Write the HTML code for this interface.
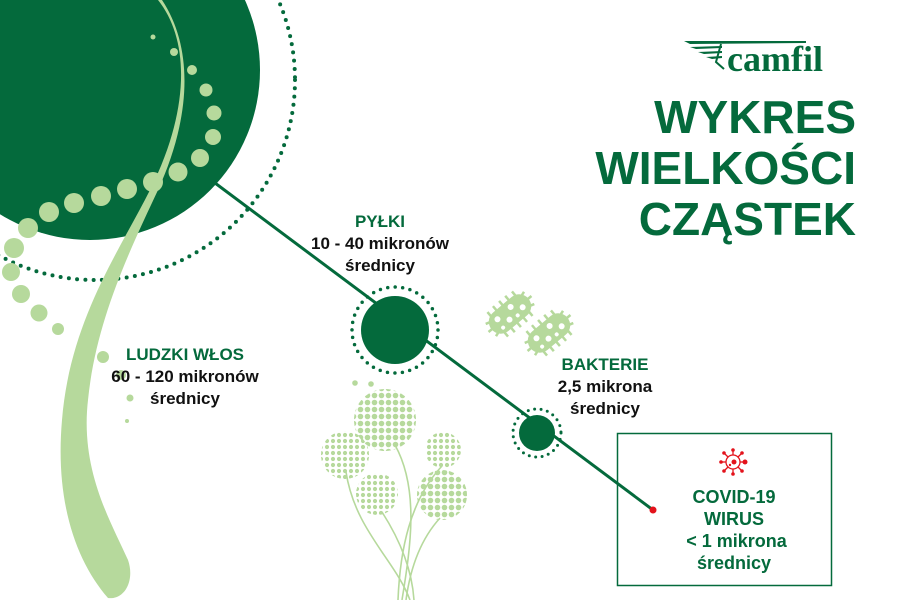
<!DOCTYPE html>
<html><head><meta charset="utf-8"><style>
body{margin:0;width:900px;height:600px;overflow:hidden;background:#fff;font-family:"Liberation Sans",sans-serif}
svg{position:absolute;left:0;top:0}
.t{position:absolute;text-align:center;font-weight:bold;font-size:17px;line-height:22px;color:#111}
.g{color:#046a3c}
.title{position:absolute;right:44px;top:92px;text-align:right;font-weight:bold;font-size:46px;line-height:51px;color:#046a3c}
</style></head><body>
<svg width="900" height="600" viewBox="0 0 900 600">
<defs>
<pattern id="dp" width="7" height="7" patternUnits="userSpaceOnUse"><circle cx="3.5" cy="3.5" r="2.8" fill="#b6d99c"/></pattern>
<pattern id="dp2" width="6" height="6" patternUnits="userSpaceOnUse"><circle cx="3" cy="3" r="2.1" fill="#b6d99c"/></pattern>
<g id="bac">
<g stroke="#b6d99c" stroke-width="2.5">
<line x1="-16" y1="-16" x2="-16" y2="16"/><line x1="-8" y1="-17" x2="-8" y2="17"/><line x1="0" y1="-17" x2="0" y2="17"/><line x1="8" y1="-17" x2="8" y2="17"/><line x1="16" y1="-16" x2="16" y2="16"/><line x1="-28" y1="0" x2="28" y2="0"/><line x1="-25" y1="-8" x2="25" y2="8"/><line x1="-25" y1="8" x2="25" y2="-8"/>
</g>
<rect x="-24" y="-12" width="48" height="24" rx="12" fill="#b6d99c"/>
<g fill="#fff"><circle cx="-13" cy="-4" r="3"/><circle cx="-4" cy="4" r="3"/><circle cx="5" cy="-5" r="3"/><circle cx="14" cy="3" r="3"/><circle cx="-14" cy="6" r="2"/><circle cx="5" cy="6" r="2"/></g>
</g>
</defs>
<circle cx="90" cy="70" r="170" fill="#046a3c"/>
<circle cx="95" cy="80" r="200" fill="none" stroke="#046a3c" stroke-width="4" stroke-linecap="round" stroke-dasharray="0 8.3"/>
<!-- hair -->
<path d="M158 0 C190 40 190 110 150 190 C120 250 70 320 62 420 C55 500 75 560 108 598 C125 600 135 580 128 560 C110 520 80 470 88 400 C96 320 130 250 158 190 C190 120 195 50 162 0Z" fill="#b6d99c"/>
<g fill="#b6d99c">
<circle cx="153" cy="37" r="2.5"/><circle cx="174" cy="52" r="4"/><circle cx="192" cy="70" r="5"/><circle cx="206" cy="90" r="6.5"/><circle cx="214" cy="113" r="7.5"/><circle cx="213" cy="137" r="8"/><circle cx="200" cy="158" r="9"/><circle cx="178" cy="172" r="9.5"/><circle cx="153" cy="182" r="10"/><circle cx="127" cy="189" r="10"/><circle cx="101" cy="196" r="10"/><circle cx="74" cy="203" r="10"/><circle cx="49" cy="212" r="10"/><circle cx="28" cy="228" r="10"/><circle cx="14" cy="248" r="10"/><circle cx="11" cy="272" r="9"/><circle cx="21" cy="294" r="9"/><circle cx="39" cy="313" r="8.5"/><circle cx="58" cy="329" r="6"/><circle cx="103" cy="357" r="6"/><circle cx="121" cy="375" r="5"/><circle cx="130" cy="398" r="3.5"/><circle cx="127" cy="421" r="2"/>
</g>
<line x1="215" y1="183" x2="653" y2="510" stroke="#046a3c" stroke-width="3"/>
<circle cx="395" cy="330" r="34" fill="#046a3c"/>
<circle cx="395" cy="330" r="43" fill="none" stroke="#046a3c" stroke-width="3.5" stroke-linecap="round" stroke-dasharray="0 7.5"/>
<circle cx="537" cy="433" r="18" fill="#046a3c"/>
<circle cx="537" cy="433" r="24" fill="none" stroke="#046a3c" stroke-width="3" stroke-linecap="round" stroke-dasharray="0 6.5"/>
<circle cx="653" cy="510" r="3.5" fill="#e3121b"/>
<use href="#bac" transform="translate(510,314) rotate(-40)"/>
<use href="#bac" transform="translate(549,333) rotate(-40)"/>
<!-- flowers -->
<g fill="none" stroke="#b6d99c" stroke-width="1.6">
<path d="M346 472 C355 530 395 560 410 600"/>
<path d="M395 445 C420 490 410 550 402 600"/>
<path d="M442 466 C410 500 400 550 398 600"/>
<path d="M382 512 C400 540 412 570 414 600"/>
<path d="M440 518 C420 540 410 570 406 600"/>
</g>
<circle cx="355" cy="383" r="2.8" fill="#b6d99c"/><circle cx="371" cy="384" r="2.8" fill="#b6d99c"/>
<circle cx="385" cy="420" r="31" fill="url(#dp)"/>
<circle cx="345" cy="455" r="24" fill="url(#dp2)"/>
<circle cx="443" cy="450" r="18" fill="url(#dp2)"/>
<circle cx="377" cy="494" r="21" fill="url(#dp2)"/>
<circle cx="442" cy="495" r="25" fill="url(#dp)"/>
<!-- box -->
<rect x="617.5" y="433.5" width="214" height="152" fill="none" stroke="#046a3c" stroke-width="1.5"/>
<g transform="translate(733,462)" stroke="#e3121b" stroke-width="1.3" fill="none">
<circle r="7"/><g>
<line x1="0" y1="-7" x2="0" y2="-11"/><line x1="0" y1="7" x2="0" y2="11"/><line x1="-7" y1="0" x2="-11" y2="0"/><line x1="7" y1="0" x2="11" y2="0"/><line x1="5" y1="5" x2="8" y2="8"/><line x1="-5" y1="5" x2="-8" y2="8"/><line x1="5" y1="-5" x2="8" y2="-8"/><line x1="-5" y1="-5" x2="-8" y2="-8"/></g>
<g fill="#e3121b" stroke="none"><circle cx="0" cy="-12" r="1.8"/><circle cx="0" cy="12" r="1.8"/><circle cx="-12" cy="0" r="1.8"/><circle cx="12" cy="0" r="2.5"/><circle cx="9" cy="9" r="1.8"/><circle cx="-9" cy="9" r="1.8"/><circle cx="9" cy="-9" r="1.8"/><circle cx="-9" cy="-9" r="1.8"/><circle cx="1" cy="0" r="2.5"/><circle cx="-3" cy="3" r="1.2"/></g>
</g>
<!-- logo -->
<g fill="#046a3c">
<polygon points="684,41 806,41 806,43 690,44"/>
<polygon points="690,47 722,46 722,48 696,49"/>
<polygon points="698,52 722,51 722,53 704,54"/>
<polygon points="706,57 722,56 722,58 712,59"/>
</g>
<path d="M721 44 L716 62 L724 69" stroke="#046a3c" stroke-width="2" fill="none"/>
<text x="727" y="71" font-family="Liberation Serif,serif" font-weight="bold" font-size="36" fill="#046a3c">camfil</text>
</svg>
<div class="title">WYKRES<br>WIELKOŚCI<br>CZĄSTEK</div>
<div class="t" style="left:280px;top:211px;width:200px"><span class="g">PYŁKI</span><br>10 - 40 mikronów<br>średnicy</div>
<div class="t" style="left:85px;top:344px;width:200px"><span class="g">LUDZKI WŁOS</span><br>60 - 120 mikronów<br>średnicy</div>
<div class="t" style="left:545px;top:354px;width:120px"><span class="g">BAKTERIE</span><br>2,5 mikrona<br>średnicy</div>
<div class="t g" style="left:634px;top:486px;width:200px;font-size:18px">COVID-19<br>WIRUS<br>&nbsp;&lt; 1 mikrona<br>średnicy</div>
</body></html>
